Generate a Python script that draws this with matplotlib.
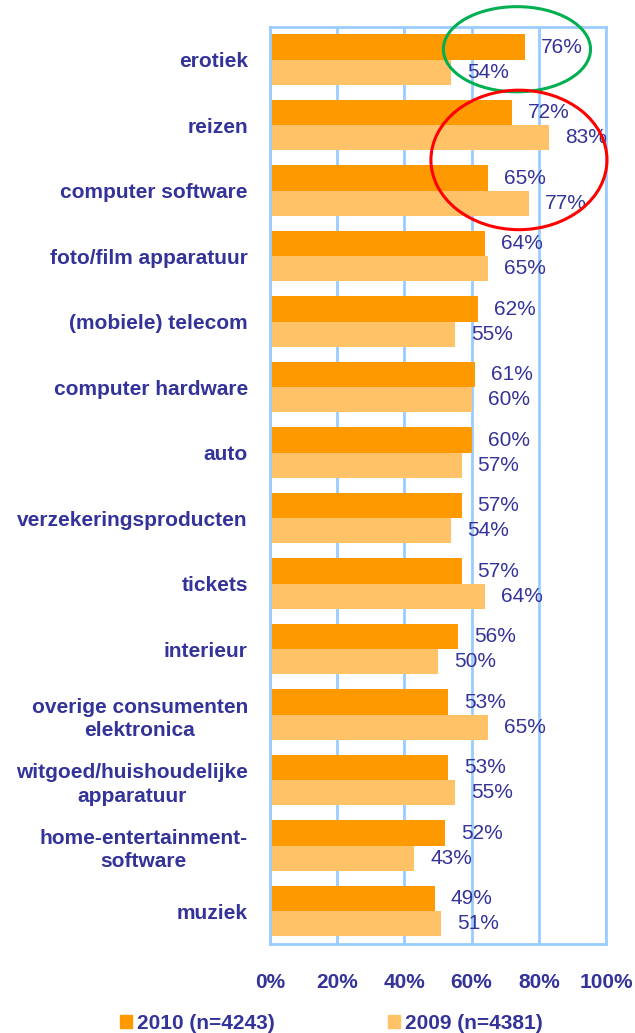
import matplotlib.pyplot as plt
from matplotlib.patches import Ellipse, Patch
import numpy as np

plt.rcParams['font.family'] = ['Liberation Sans', 'DejaVu Sans']

categories = ['erotiek', 'reizen', 'computer software', 'foto/film apparatuur',
              '(mobiele) telecom', 'computer hardware', 'auto',
              'verzekeringsproducten', 'tickets', 'interieur',
              'overige consumenten\nelektronica', 'witgoed/huishoudelijke\napparatuur',
              'home-entertainment-\nsoftware', 'muziek']
vals_2010 = [76, 72, 65, 64, 62, 61, 60, 57, 57, 56, 53, 53, 52, 49]
vals_2009 = [54, 83, 77, 65, 55, 60, 57, 54, 64, 50, 65, 55, 43, 51]
series_names = ['2010 (n=4243)', '2009 (n=4381)']
xticks = [0, 20, 40, 60, 80, 100]
xtick_labels = ['0%', '20%', '40%', '60%', '80%', '100%']

txt = '#333399'
c2010 = '#FF9900'
c2009 = '#FFC266'
gridc = '#99CCFF'

fig = plt.figure(figsize=(6.35, 10.33), dpi=100)
ax = fig.add_axes([0.4252, 0.0862, 0.5291, 0.8877])

y = np.arange(len(categories))
h = 0.385
ax.barh(y - h / 2, vals_2010, height=h, color=c2010, zorder=2)
ax.barh(y + h / 2, vals_2009, height=h, color=c2009, zorder=2)

for i in range(len(categories)):
    ax.annotate(f'{vals_2010[i]}%', (vals_2010[i], y[i] - h / 2), xytext=(16, 0),
                textcoords='offset pixels', va='center', ha='left',
                fontsize=15, color=txt, annotation_clip=False)
    ax.annotate(f'{vals_2009[i]}%', (vals_2009[i], y[i] + h / 2), xytext=(16, 0),
                textcoords='offset pixels', va='center', ha='left',
                fontsize=15, color=txt, annotation_clip=False)

ax.set_xlim(0, 100)
ax.set_ylim(len(categories) - 0.5, -0.5)
ax.set_xticks(xticks)
ax.set_xticklabels(xtick_labels, fontsize=15, fontweight='bold', color=txt)
ax.set_yticks(y)
ax.set_yticklabels(categories, fontsize=15, fontweight='bold', color=txt,
                   multialignment='center', linespacing=1.3)
ax.tick_params(axis='x', length=0, pad=21)
ax.tick_params(axis='y', length=0, pad=16)
ax.grid(axis='x', color=gridc, linewidth=2, zorder=1)
for s in ax.spines.values():
    s.set_color(gridc)
    s.set_linewidth(2)

# highlight ellipses
ax.add_patch(Ellipse((73.5, -0.16), 43.8, 1.30, fill=False, edgecolor='#00B050',
                     linewidth=2.2, zorder=5, clip_on=False))
ax.add_patch(Ellipse((74.1, 1.53), 52.4, 2.13, fill=False, edgecolor='#FF0000',
                     linewidth=2.2, zorder=5, clip_on=False))

handles = [Patch(color=c2010), Patch(color=c2009)]
leg = fig.legend(handles, series_names, loc='center', bbox_to_anchor=(0.522, 0.009),
                 ncol=2, frameon=False, handlelength=0.6, handleheight=0.6,
                 handletextpad=0.25, columnspacing=5.4,
                 prop={'size': 15, 'weight': 'bold'})
for t in leg.get_texts():
    t.set_color(txt)

fig.savefig('out.png', dpi=100)
